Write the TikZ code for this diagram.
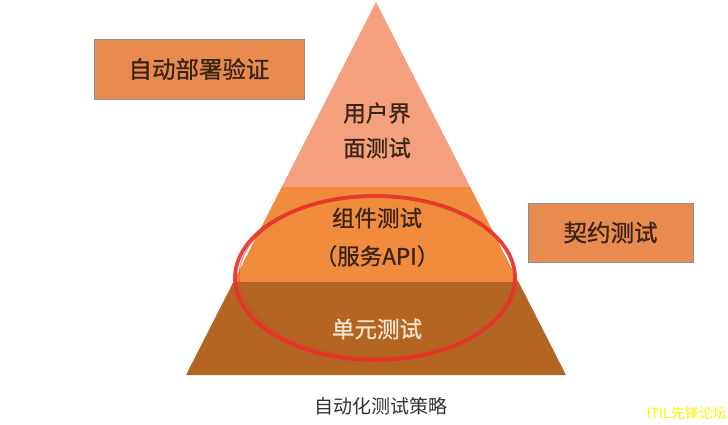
\documentclass[tikz,border=0pt]{standalone}
\usepackage{fontspec}
\newfontfamily\cjk{Noto Sans CJK SC}
\newfontfamily\cjkb[FakeBold=0.9]{Noto Sans CJK SC}
\usetikzlibrary{calc}
\definecolor{topband}{HTML}{F4A07E}
\definecolor{midband}{HTML}{F18B3D}
\definecolor{botband}{HTML}{B46522}
\definecolor{boxfill}{HTML}{E98A4E}
\definecolor{boxedge}{HTML}{8A8E98}
\definecolor{txt}{HTML}{3A2416}
\definecolor{ringred}{HTML}{E8332A}
\definecolor{unittxt}{HTML}{F6E7D2}
\tikzset{
  sidebox/.style={draw=boxedge, line width=0.8pt, fill=boxfill, minimum width=210pt, minimum height=60pt, font=\cjkb\fontsize{23.5}{25}\selectfont, text=txt, inner sep=0pt},
  layertext/.style={font=\cjkb\fontsize{22.5}{24}\selectfont, text=txt, inner sep=0pt},
}
\begin{document}
\begin{tikzpicture}[x=1pt,y=-1pt]
\useasboundingbox (0,0) rectangle (728,424);
\fill[white] (0,0) rectangle (728,424);
% pyramid
\coordinate (apex) at (376,2);
\coordinate (bl) at (186,375);
\coordinate (br) at (566,375);
\begin{scope}
  \clip (apex) -- (br) -- (bl) -- cycle;
  \fill[topband] (180,0) rectangle (570,187);
  \fill[midband] (180,187) rectangle (570,282);
  \fill[botband] (180,282) rectangle (570,376);
\end{scope}
% layer texts
\node[layertext] (ui1) at (377,113) {用户界};
\node[layertext] (ui2) at (377,148) {面测试};
\node[layertext] (comp1) at (377,218) {组件测试};
\node[layertext] (comp2) at (377,256) {（服务API）};
\node[layertext, text=unittxt] (unit) at (377,329) {单元测试};
% red ring
\draw[ringred, line width=3.8pt, opacity=0.92] (375,278) ellipse [x radius=140, y radius=82];
\draw[ringred, line width=1pt, opacity=0.6] (377,276.5) ellipse [x radius=138, y radius=81.5];
% side boxes
\node[sidebox] (deploy) at (199,69) {自动部署验证};
\node[sidebox, minimum width=165pt, minimum height=59pt] (contract) at (610.5,232.5) {契约测试};
% caption
\node[font=\cjk\fontsize{19}{21}\selectfont, text=black!80, inner sep=0pt] (caption) at (381,406) {自动化测试策略};
\node[font=\cjk\fontsize{14}{16}\selectfont, text=yellow, inner sep=0pt, anchor=east] (mark) at (727,413) {ITIL先锋论坛};
\end{tikzpicture}
\end{document}
